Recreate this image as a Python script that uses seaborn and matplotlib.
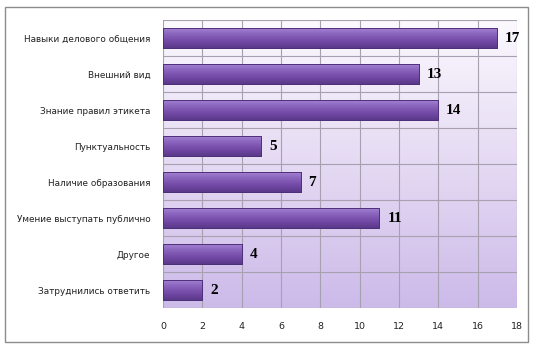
import matplotlib
matplotlib.use("Agg")
import matplotlib.pyplot as plt
import seaborn as sns
import numpy as np
import pandas as pd
from matplotlib.colors import LinearSegmentedColormap
from matplotlib.patches import Rectangle

categories = ["Навыки делового общения", "Внешний вид", "Знание правил этикета",
              "Пунктуальность", "Наличие образования", "Умение выступать публично",
              "Другое", "Затруднились ответить"]
values = [17, 13, 14, 5, 7, 11, 4, 2]
xticks = [0, 2, 4, 6, 8, 10, 12, 14, 16, 18]

df = pd.DataFrame({"cat": categories, "val": values})

sns.set_theme(style="white")
plt.rcParams['font.family'] = ['DejaVu Sans']

fig = plt.figure(figsize=(5.33, 3.45), dpi=100)
ax = fig.add_axes([0.306, 0.107, 0.664, 0.835])

sns.barplot(data=df, x="val", y="cat", orient="h", color="#7b52ae",
            width=0.56, ax=ax, edgecolor="#4e2f7a", linewidth=0.6, zorder=3)

ax.set_xlim(0, 18)
ax.set_ylim(7.5, -0.5)

# background gradient
bg = LinearSegmentedColormap.from_list("bg", ["#fbf9fe", "#e5daf3", "#ccbae9"])
grad = np.linspace(0, 1, 256).reshape(-1, 1)
ax.imshow(grad, cmap=bg, aspect="auto", extent=(0, 18, 7.5, -0.5), zorder=0)

# bar gradients
barcm = LinearSegmentedColormap.from_list("bar", ["#a887d6", "#8a64bd", "#734aa6", "#5a398a"])
for p in ax.patches:
    x0, y0 = p.get_x(), p.get_y()
    w, h = p.get_width(), p.get_height()
    im = ax.imshow(grad, cmap=barcm, aspect="auto",
                   extent=(x0, x0 + w, y0 + h, y0), zorder=3.5)
    im.set_clip_path(p)
    ax.add_patch(Rectangle((x0, y0), w, h, fill=False, edgecolor="#4e2f7a",
                           linewidth=0.7, zorder=4))

# grid
for xt in xticks:
    ax.axvline(xt, color="#a6a0b0", linewidth=0.8, zorder=1)
for yb in np.arange(-0.5, 8, 1):
    ax.axhline(yb, color="#a6a0b0", linewidth=0.8, zorder=1)

for i, v in enumerate(values):
    ax.text(v + 0.4, i, str(v), va="center", ha="left", fontsize=11,
            fontweight="bold", family="Liberation Serif", color="black", zorder=5)

ax.set_xticks(xticks)
ax.set_xticklabels([str(t) for t in xticks], fontsize=6.8, color="#222222")
ax.tick_params(axis="y", labelsize=6.4, colors="#222222", length=0, pad=9)
ax.tick_params(axis="x", length=0, pad=10)
ax.set_xlabel("")
ax.set_ylabel("")
for s in ax.spines.values():
    s.set_visible(False)

fig.patches.append(Rectangle((0.01, 0.01), 0.98, 0.97, transform=fig.transFigure,
                             fill=False, edgecolor="#8c8c8c", linewidth=1.0))

fig.savefig("out.png", dpi=100)
